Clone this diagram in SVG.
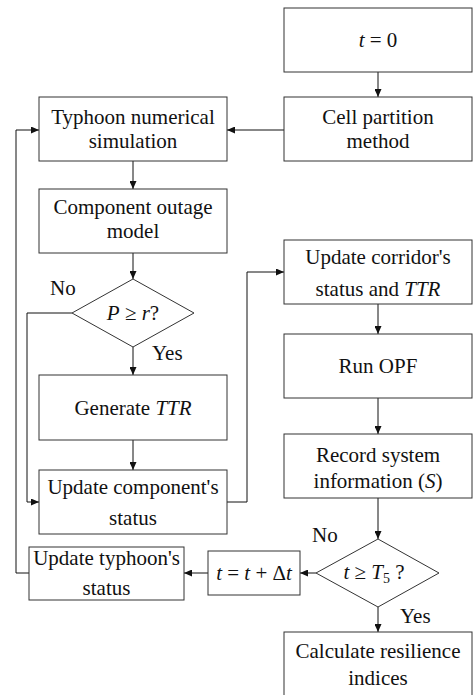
<svg xmlns="http://www.w3.org/2000/svg" width="473" height="695" viewBox="0 0 473 695">
<defs>
<marker id="ah" markerWidth="8" markerHeight="7" refX="8" refY="3.5" orient="auto" markerUnits="userSpaceOnUse">
<path d="M0,0 L8,3.5 L0,7 z" fill="#111"/>
</marker>
<style>
.box{fill:#fff;stroke:#333;stroke-width:1}
.t{font-family:"Liberation Serif","Times New Roman",serif;font-size:21px;fill:#111;text-anchor:middle}
.l{font-family:"Liberation Serif","Times New Roman",serif;font-size:21px;fill:#111}
.c{fill:none;stroke:#111;stroke-width:1}
.c2{fill:none;stroke:#111;stroke-width:1;marker-end:url(#ah)}
</style>
</defs>
<rect width="473" height="695" fill="#fff"/>
<g id="connectors">
<line class="c2" x1="378" y1="72" x2="378" y2="97"/>
<line class="c2" x1="284" y1="130" x2="227" y2="130"/>
<line class="c2" x1="133" y1="161" x2="133" y2="189"/>
<line class="c2" x1="133" y1="253" x2="133" y2="279"/>
<line class="c2" x1="133" y1="347" x2="133" y2="375"/>
<line class="c2" x1="133" y1="440" x2="133" y2="470"/>
<polyline class="c2" points="72,313 27,313 27,502 39,502"/>
<polyline class="c2" points="227,502 247,502 247,272 284,272"/>
<line class="c2" x1="378" y1="304" x2="378" y2="334"/>
<line class="c2" x1="378" y1="398" x2="378" y2="434"/>
<line class="c2" x1="378" y1="498" x2="378" y2="539"/>
<line class="c2" x1="316" y1="573" x2="300" y2="573"/>
<line class="c2" x1="208" y1="573" x2="184" y2="573"/>
<polyline class="c2" points="29,573 16,573 16,130 39,130"/>
<line class="c2" x1="378" y1="607" x2="378" y2="632"/>
</g>
<g id="labels">
<text class="l" x="50" y="295">No</text>
<text class="l" x="152" y="360">Yes</text>
<text class="l" x="312" y="542">No</text>
<text class="l" x="400" y="623">Yes</text>
</g>
<g id="start">
<rect class="box" x="284" y="8" width="188" height="64"/>
<text class="t" x="378" y="47"><tspan font-style="italic">t</tspan> = 0</text>
</g>
<g id="cell">
<rect class="box" x="284" y="97" width="188" height="64"/>
<text class="t" x="378" y="124">Cell partition</text>
<text class="t" x="378" y="148">method</text>
</g>
<g id="typhoon">
<rect class="box" x="39" y="97" width="188" height="64"/>
<text class="t" x="133" y="124">Typhoon numerical</text>
<text class="t" x="133" y="148">simulation</text>
</g>
<g id="outage">
<rect class="box" x="39" y="189" width="188" height="64"/>
<text class="t" x="133" y="214">Component outage</text>
<text class="t" x="133" y="238">model</text>
</g>
<g id="decision1">
<polygon class="box" points="133,279 194,313 133,347 72,313"/>
<text class="t" x="133" y="320"><tspan font-style="italic">P</tspan> ≥ <tspan font-style="italic">r</tspan>?</text>
</g>
<g id="generate">
<rect class="box" x="39" y="375" width="188" height="65"/>
<text class="t" x="133" y="415">Generate <tspan font-style="italic">TTR</tspan></text>
</g>
<g id="updcomp">
<rect class="box" x="39" y="470" width="188" height="64"/>
<text class="t" x="133" y="494">Update component's</text>
<text class="t" x="133" y="525">status</text>
</g>
<g id="corridor">
<rect class="box" x="284" y="240" width="188" height="64"/>
<text class="t" x="378" y="264">Update corridor's</text>
<text class="t" x="378" y="296">status and <tspan font-style="italic">TTR</tspan></text>
</g>
<g id="opf">
<rect class="box" x="284" y="334" width="188" height="64"/>
<text class="t" x="378" y="373">Run OPF</text>
</g>
<g id="record">
<rect class="box" x="284" y="434" width="188" height="64"/>
<text class="t" x="378" y="462">Record system</text>
<text class="t" x="378" y="488">information (<tspan font-style="italic">S</tspan>)</text>
</g>
<g id="decision2">
<polygon class="box" points="378,539 439,573 378,607 316,573"/>
<text class="t" x="374" y="579"><tspan font-style="italic">t</tspan> ≥ <tspan font-style="italic">T</tspan><tspan font-size="14" dy="4">5</tspan><tspan dy="-4"> ?</tspan></text>
</g>
<g id="increment">
<rect class="box" x="208" y="551" width="92" height="44"/>
<text class="t" x="254" y="580"><tspan font-style="italic">t</tspan> = <tspan font-style="italic">t</tspan> + Δ<tspan font-style="italic">t</tspan></text>
</g>
<g id="updtyphoon">
<rect class="box" x="29" y="547" width="155" height="53"/>
<text class="t" x="106.5" y="565">Update typhoon's</text>
<text class="t" x="106.5" y="595">status</text>
</g>
<g id="calc">
<rect class="box" x="284" y="632" width="188" height="70"/>
<text class="t" x="378" y="658">Calculate resilience</text>
<text class="t" x="378" y="685">indices</text>
</g>
</svg>
